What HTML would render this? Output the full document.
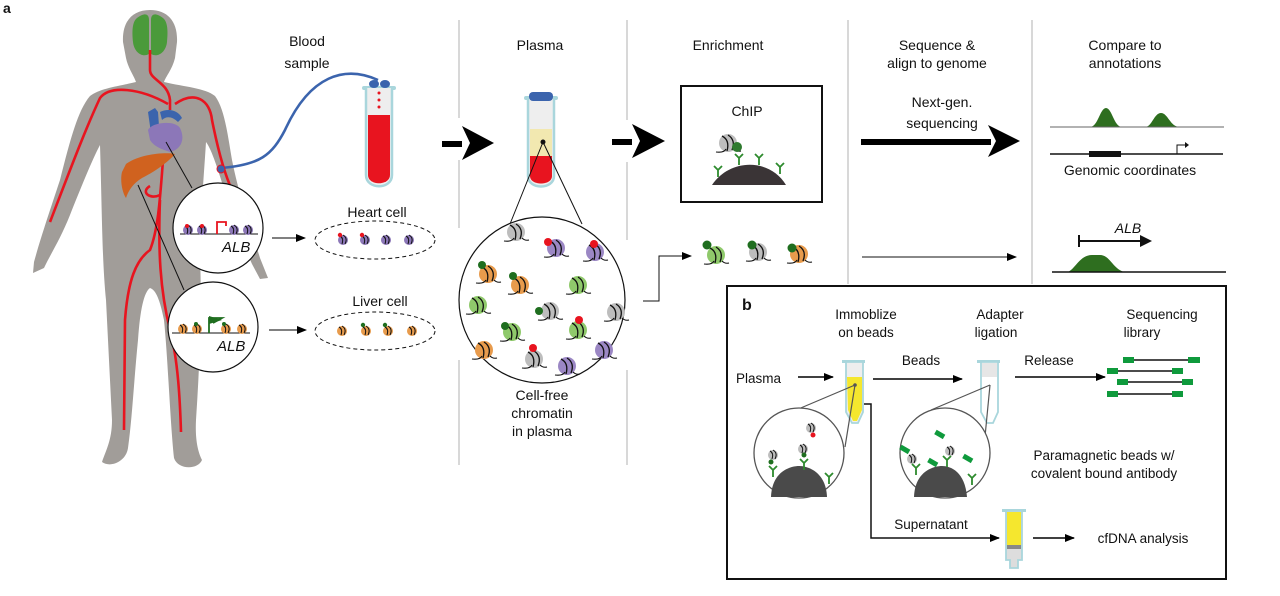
<!DOCTYPE html>
<html><head><meta charset="utf-8"><style>
html,body{margin:0;padding:0;background:#fff}
svg{display:block}
text{font-family:"Liberation Sans",sans-serif;fill:#111}
</style></head><body>
<svg width="1280" height="596" viewBox="0 0 1280 596" xmlns="http://www.w3.org/2000/svg">
<defs>
<marker id="ah" markerWidth="10" markerHeight="8" refX="9" refY="4" orient="auto" markerUnits="userSpaceOnUse"><path d="M0,0 L10,4 L0,8 Z" fill="#000"/></marker>
<g id="nuc">
 <circle cx="0" cy="0" r="9"/>
 <path d="M-6,-7 Q2,-3 -1,8 M0,-8 Q8,-3 4,7" fill="none" stroke="#111" stroke-width="1.3"/>
 <path d="M-12,9 Q-4,10 -2,6 M6,6 Q9,9 13,8" fill="none" stroke="#111" stroke-width="1.1"/>
</g>
<g id="sn">
 <circle cx="0" cy="0" r="5"/>
 <path d="M-3,-4 Q1,-2 -1,4 M0,-5 Q5,-2 2,4" fill="none" stroke="#111" stroke-width="1"/>
</g>
<g id="ab"><path d="M0,0 L0,-7 M0,-7 L-4,-11 M0,-7 L4,-11" stroke="#2e8b2e" stroke-width="1.8" fill="none"/></g>
</defs>

<text x="3" y="13" font-size="14" font-weight="bold">a</text>

<!-- body -->
<path fill="#a19d99" d="M150,10 C168,10 178,22 177,42 L175,58 C172,70 166,76 164,82 C185,87 205,88 215,96 C224,108 227,130 232,160 C240,200 252,232 260,258 L268,278 L260,279 L252,264 C244,246 234,222 226,195 C218,170 212,150 206,142 C204,175 200,220 200,260 C202,300 200,360 196,420 C195,440 198,452 202,460 C198,470 178,470 174,458 C170,420 168,360 164,320 C160,300 156,290 150,288 C144,292 140,310 138,340 C134,380 132,420 128,448 C126,462 110,468 102,462 C106,450 112,440 112,420 C110,380 108,340 106,300 C102,260 102,210 100,145 C92,160 80,190 70,215 C60,240 50,255 44,268 L33,273 L34,262 C40,240 50,210 60,180 C70,140 78,110 90,96 C100,88 120,86 136,82 C134,76 128,68 126,58 L123,42 C122,22 132,10 150,10 Z"/>
<!-- brain -->
<path fill="#4a9a3a" d="M137,18 C145,12 149,14 149,20 L149,54 C142,58 134,52 133,42 C132,32 132,22 137,18 Z M163,18 C155,12 151,14 151,20 L151,54 C158,58 166,52 167,42 C168,32 168,22 163,18 Z"/>
<!-- vessels -->
<g fill="none" stroke="#e8141f" stroke-width="2.6">
<path d="M150,50 L150,70 C150,80 168,82 170,100 L170,110"/>
<path d="M168,104 C140,88 110,85 100,98 C85,130 70,170 50,222"/>
<path d="M175,104 C195,90 210,100 212,120 C218,150 225,175 232,190"/>
<path d="M163,160 C160,200 158,230 150,250 C136,260 128,280 125,320 L124,430"/>
<path d="M160,200 C158,250 160,290 170,330 C178,360 180,400 181,432"/>
<path d="M150,186 C140,192 150,200 160,195"/>
</g>
<!-- heart -->
<path fill="#3b64ad" d="M148,112 L155,108 L158,112 L160,140 L152,140 Z"/>
<path fill="#3b64ad" d="M160,112 C168,108 178,110 182,118 L178,122 C172,116 166,116 162,120 Z"/>
<path fill="#8c77b8" d="M148,130 C152,122 175,120 180,128 C186,140 180,150 170,152 C165,150 155,148 150,140 Z"/>
<!-- liver -->
<path fill="#d0621f" d="M126,164 C140,154 165,152 175,154 C170,160 158,170 142,178 C132,184 128,192 126,198 C122,192 120,180 122,172 Z"/>
<!-- zoom lines -->
<g stroke="#111" stroke-width="1"><line x1="166" y1="142" x2="192" y2="188"/><line x1="138" y1="185" x2="184" y2="290"/></g>
<!-- heart circle -->
<circle cx="218" cy="228" r="45" fill="#fff" stroke="#111" stroke-width="1.2"/>
<line x1="180" y1="234" x2="258" y2="234" stroke="#111"/>
<g fill="#8c77b8"><use href="#sn" x="188" y="230"/><use href="#sn" x="202" y="230"/><use href="#sn" x="234" y="230"/><use href="#sn" x="248" y="230"/></g>
<circle cx="187" cy="226" r="2" fill="#e8141f"/><circle cx="202" cy="226" r="2" fill="#e8141f"/>
<path d="M217,234 L217,222 L226,222 L226,226" fill="none" stroke="#e8141f" stroke-width="1.8"/>
<text x="222" y="252" font-size="15" font-style="italic">ALB</text>
<!-- liver circle -->
<circle cx="213" cy="327" r="45" fill="#fff" stroke="#111" stroke-width="1.2"/>
<line x1="172" y1="333" x2="250" y2="333" stroke="#111"/>
<g fill="#e89b4c"><use href="#sn" x="183" y="329"/><use href="#sn" x="197" y="329"/><use href="#sn" x="226" y="329"/><use href="#sn" x="242" y="329"/></g>
<circle cx="196" cy="324" r="2" fill="#1f6e1f"/><circle cx="224" cy="324" r="2" fill="#1f6e1f"/>
<path d="M209,333 L209,318 L222,318 L213,323" fill="none" stroke="#1f6e1f" stroke-width="1.8"/>
<path d="M209,316 L222,320 L209,324 Z" fill="#1f6e1f"/>
<text x="217" y="351" font-size="15" font-style="italic">ALB</text>
<!-- arrows to cells -->
<line x1="272" y1="238" x2="305" y2="238" stroke="#000" marker-end="url(#ah)"/>
<line x1="269" y1="330" x2="306" y2="330" stroke="#000" marker-end="url(#ah)"/>
<text x="377" y="217" font-size="14" text-anchor="middle">Heart cell</text>
<ellipse cx="375" cy="240" rx="60" ry="19" fill="none" stroke="#111" stroke-dasharray="4,3"/>
<g fill="#8c77b8"><use href="#sn" x="343" y="240"/><use href="#sn" x="365" y="240"/><use href="#sn" x="386" y="240"/><use href="#sn" x="409" y="240"/></g>
<circle cx="340" cy="235" r="2.2" fill="#e8141f"/><circle cx="362" cy="235" r="2.2" fill="#e8141f"/>
<text x="380" y="306" font-size="14" text-anchor="middle">Liver cell</text>
<ellipse cx="375" cy="331" rx="60" ry="19" fill="none" stroke="#111" stroke-dasharray="4,3"/>
<g fill="#e89b4c"><use href="#sn" x="342" y="331"/><use href="#sn" x="366" y="331"/><use href="#sn" x="388" y="331"/><use href="#sn" x="412" y="331"/></g>
<circle cx="363" cy="325" r="2.2" fill="#1f6e1f"/><circle cx="385" cy="325" r="2.2" fill="#1f6e1f"/>

<!-- blood sample -->
<text x="307" y="46" font-size="14" text-anchor="middle">Blood</text>
<text x="307" y="68" font-size="14" text-anchor="middle">sample</text>
<path d="M221,168 C260,165 272,155 285,130 C310,75 345,65 378,80" fill="none" stroke="#3b64ad" stroke-width="2.6"/>
<circle cx="221" cy="169" r="4" fill="#3b64ad" stroke="#e8141f"/>
<rect x="362" y="86" width="34" height="4" rx="2" fill="#a9d6dc"/>
<path d="M366,88 L366,175 C366,190 392,190 392,175 L392,88" fill="#eee" stroke="#a9d6dc" stroke-width="2.5"/>
<path d="M368,115 L390,115 L390,175 C390,186 368,186 368,175 Z" fill="#e8141f"/>
<ellipse cx="374" cy="84" rx="5" ry="4" fill="#3b64ad"/><ellipse cx="385" cy="84" rx="5" ry="4" fill="#3b64ad"/>
<g fill="#e8141f"><circle cx="379" cy="93" r="1.5"/><circle cx="379" cy="100" r="1.5"/><circle cx="379" cy="107" r="1.5"/></g>

<!-- separators -->
<g stroke="#c4c4c4" stroke-width="1.3">
<line x1="459" y1="20" x2="459" y2="118"/><line x1="459" y1="160" x2="459" y2="228"/><line x1="459" y1="360" x2="459" y2="465"/>
<line x1="627" y1="20" x2="627" y2="120"/><line x1="627" y1="162" x2="627" y2="240"/><line x1="627" y1="370" x2="627" y2="465"/>
<line x1="848" y1="20" x2="848" y2="284"/>
<line x1="1032" y1="20" x2="1032" y2="284"/>
</g>
<!-- big arrows -->
<g fill="#000">
<rect x="442" y="141" width="20" height="6"/><path d="M462,126 L494,143 L462,160 L470,143 Z"/>
<rect x="612" y="139" width="20" height="6"/><path d="M632,124 L665,141 L632,158 L640,141 Z"/>
<rect x="861" y="139" width="130" height="6"/><path d="M988,125 L1020,141 L988,157 L996,141 Z"/>
</g>

<!-- plasma -->
<text x="540" y="50" font-size="14" text-anchor="middle">Plasma</text>
<rect x="524" y="96" width="34" height="4" rx="2" fill="#a9d6dc"/>
<path d="M528,98 L528,176 C528,190 554,190 554,176 L554,98" fill="#eee" stroke="#a9d6dc" stroke-width="2.5"/>
<rect x="530" y="129" width="22" height="27" fill="#f2e8b0"/>
<path d="M530,156 L552,156 L552,176 C552,186 530,186 530,176 Z" fill="#e8141f"/>
<rect x="529" y="92" width="24" height="9" rx="4" fill="#3b64ad"/>
<circle cx="543" cy="142" r="2.5" fill="#111"/>
<line x1="543" y1="142" x2="510" y2="224" stroke="#111"/><line x1="543" y1="142" x2="582" y2="224" stroke="#111"/>
<circle cx="542" cy="300" r="83" fill="#fff" stroke="#111" stroke-width="1.2"/>
<g fill="#bdbdbd"><use href="#nuc" x="516" y="232"/><use href="#nuc" x="550" y="311"/><use href="#nuc" x="616" y="312"/><use href="#nuc" x="534" y="359"/></g>
<g fill="#9b87c4"><use href="#nuc" x="556" y="248"/><use href="#nuc" x="595" y="252"/><use href="#nuc" x="604" y="350"/><use href="#nuc" x="567" y="366"/></g>
<g fill="#e89b4c"><use href="#nuc" x="488" y="274"/><use href="#nuc" x="520" y="285"/><use href="#nuc" x="484" y="350"/></g>
<g fill="#8fc96b"><use href="#nuc" x="578" y="285"/><use href="#nuc" x="478" y="305"/><use href="#nuc" x="512" y="332"/><use href="#nuc" x="578" y="330"/></g>
<g fill="#e8141f"><circle cx="548" cy="242" r="4"/><circle cx="594" cy="244" r="4"/><circle cx="579" cy="320" r="4"/><circle cx="533" cy="348" r="4"/></g>
<g fill="#1f6e1f"><circle cx="482" cy="265" r="4"/><circle cx="513" cy="276" r="4"/><circle cx="539" cy="311" r="4"/><circle cx="505" cy="326" r="4"/></g>
<text x="542" y="400" font-size="14" text-anchor="middle">Cell-free</text>
<text x="542" y="418" font-size="14" text-anchor="middle">chromatin</text>
<text x="542" y="436" font-size="14" text-anchor="middle">in plasma</text>
<path d="M643,301 L659,301 L659,256 L691,256" fill="none" stroke="#111" marker-end="url(#ah)"/>
<g fill="#8fc96b"><use href="#nuc" x="716" y="255"/></g>
<g fill="#bdbdbd"><use href="#nuc" x="758" y="252"/></g>
<g fill="#e89b4c"><use href="#nuc" x="799" y="254"/></g>
<g fill="#1f6e1f"><circle cx="707" cy="245" r="4.5"/><circle cx="752" cy="245" r="4.5"/><circle cx="792" cy="248" r="4.5"/></g>

<!-- enrichment -->
<text x="728" y="50" font-size="14" text-anchor="middle">Enrichment</text>
<rect x="681" y="86" width="141" height="116" fill="none" stroke="#111" stroke-width="2"/>
<text x="747" y="116" font-size="14" text-anchor="middle">ChIP</text>
<path d="M712,185 C730,158 770,158 786,185 Z" fill="#3a3436"/>
<g fill="#bdbdbd"><use href="#nuc" x="728" y="143"/></g>
<circle cx="737" cy="147" r="5" fill="#2e7a2e"/>
<use href="#ab" x="718" y="177"/><use href="#ab" x="739" y="165"/><use href="#ab" x="759" y="165"/><use href="#ab" x="780" y="174"/>

<!-- sequence -->
<text x="937" y="50" font-size="14" text-anchor="middle">Sequence &amp;</text>
<text x="937" y="68" font-size="14" text-anchor="middle">align to genome</text>
<text x="942" y="107" font-size="14" text-anchor="middle">Next-gen.</text>
<text x="942" y="128" font-size="14" text-anchor="middle">sequencing</text>
<line x1="862" y1="257" x2="1016" y2="257" stroke="#111" marker-end="url(#ah)"/>

<!-- compare -->
<text x="1125" y="50" font-size="14" text-anchor="middle">Compare to</text>
<text x="1125" y="68" font-size="14" text-anchor="middle">annotations</text>
<path d="M1050,127 L1090,127 C1098,127 1100,108 1106,108 C1112,108 1114,127 1122,127 L1145,127 C1152,127 1154,113 1161,113 C1168,113 1170,127 1180,127 Z" fill="#2e6e1f"/>
<line x1="1050" y1="127" x2="1224" y2="127" stroke="#666"/>
<line x1="1050" y1="154" x2="1223" y2="154" stroke="#111" stroke-width="1.5"/>
<rect x="1089" y="151" width="32" height="6" fill="#111"/>
<path d="M1177,154 L1177,145 L1186,145" fill="none" stroke="#111"/><path d="M1185,142 L1189,145 L1185,148 Z" fill="#111"/>
<text x="1130" y="175" font-size="14" text-anchor="middle">Genomic coordinates</text>
<text x="1128" y="233" font-size="14" font-style="italic" text-anchor="middle">ALB</text>
<line x1="1079" y1="235" x2="1079" y2="247" stroke="#111" stroke-width="2"/>
<line x1="1079" y1="241" x2="1144" y2="241" stroke="#111" stroke-width="2"/><path d="M1140,235 L1152,241 L1140,247 Z" fill="#111"/>
<path d="M1068,272 C1076,268 1080,255 1092,255 L1100,255 C1110,255 1112,268 1124,272 Z" fill="#2e6e1f"/>
<line x1="1052" y1="272" x2="1226" y2="272" stroke="#111" stroke-width="1.5"/>

<!-- panel b -->
<rect x="727" y="286" width="499" height="293" fill="#fff" stroke="#111" stroke-width="2"/>
<text x="742" y="310" font-size="16" font-weight="bold">b</text>
<text x="866" y="319" font-size="13.5" text-anchor="middle">Immoblize</text>
<text x="866" y="337" font-size="13.5" text-anchor="middle">on beads</text>
<text x="1000" y="319" font-size="13.5" text-anchor="middle">Adapter</text>
<text x="996" y="337" font-size="13.5" text-anchor="middle">ligation</text>
<text x="1162" y="319" font-size="13.5" text-anchor="middle">Sequencing</text>
<text x="1142" y="337" font-size="13.5" text-anchor="middle">library</text>
<text x="736" y="383" font-size="13.5">Plasma</text>
<line x1="798" y1="377" x2="833" y2="377" stroke="#000" stroke-width="1.5" marker-end="url(#ah)"/>
<text x="921" y="365" font-size="13.5" text-anchor="middle">Beads</text>
<line x1="873" y1="379" x2="962" y2="379" stroke="#000" stroke-width="1.5" marker-end="url(#ah)"/>
<text x="1049" y="365" font-size="13.5" text-anchor="middle">Release</text>
<line x1="1015" y1="377" x2="1105" y2="377" stroke="#000" stroke-width="1.5" marker-end="url(#ah)"/>
<!-- library -->
<g stroke="#111" stroke-width="1.5"><line x1="1130" y1="360" x2="1195" y2="360"/><line x1="1113" y1="371" x2="1178" y2="371"/><line x1="1123" y1="382" x2="1188" y2="382"/><line x1="1113" y1="394" x2="1178" y2="394"/></g>
<g fill="#0f9a3c"><rect x="1123" y="357" width="11" height="6"/><rect x="1188" y="357" width="12" height="6"/><rect x="1107" y="368" width="11" height="6"/><rect x="1172" y="368" width="11" height="6"/><rect x="1117" y="379" width="11" height="6"/><rect x="1182" y="379" width="11" height="6"/><rect x="1107" y="391" width="11" height="6"/><rect x="1172" y="391" width="11" height="6"/></g>
<!-- tube 1 -->
<rect x="842" y="360" width="23" height="3" fill="#a9d6dc"/>
<path d="M846,362 L846,412 L852,423 L858,423 L863,412 L863,362 Z" fill="#eee" stroke="#a9d6dc" stroke-width="1.8"/>
<path d="M847,377 L862,377 L862,410 L857,421 L853,421 L848,410 Z" fill="#f5e72e"/>
<circle cx="855" cy="385" r="1.8" fill="#555"/>
<line x1="855" y1="385" x2="796" y2="410" stroke="#555" stroke-width="1.2"/><line x1="855" y1="385" x2="845" y2="447" stroke="#555" stroke-width="1.2"/>
<path d="M864,404 L871,404 L871,538 L999,538" fill="none" stroke="#111" stroke-width="1.5" marker-end="url(#ah)"/>
<!-- circle 1 -->
<circle cx="799" cy="453" r="45" fill="#fff" stroke="#555" stroke-width="1.3"/>
<path d="M771,497 C772,470 792,466 799,466 C808,466 826,472 827,497 Z" fill="#4a4a4a"/>
<g fill="#bdbdbd"><use href="#sn" x="811" y="428"/><use href="#sn" x="803" y="449"/><use href="#sn" x="773" y="455"/></g>
<circle cx="813" cy="435" r="2.5" fill="#e8141f"/><circle cx="804" cy="455" r="2.5" fill="#1f6e1f"/><circle cx="771" cy="462" r="2.5" fill="#1f6e1f"/>
<use href="#ab" x="804" y="470"/><use href="#ab" x="773" y="477"/><use href="#ab" x="829" y="484"/>
<!-- tube 2 -->
<rect x="977" y="360" width="23" height="3" fill="#a9d6dc"/>
<path d="M981,362 L981,412 L987,423 L993,423 L998,412 L998,362 Z" fill="#fff" stroke="#a9d6dc" stroke-width="1.8"/>
<rect x="982" y="363" width="15" height="14" fill="#e6e6e6"/>
<line x1="990" y1="385" x2="931" y2="410" stroke="#555" stroke-width="1.2"/><line x1="990" y1="385" x2="984" y2="447" stroke="#555" stroke-width="1.2"/>
<circle cx="945" cy="453" r="45" fill="#fff" stroke="#555" stroke-width="1.3"/>
<path d="M914,497 C915,470 935,466 942,466 C951,466 965,472 967,497 Z" fill="#4a4a4a"/>
<g fill="#bdbdbd"><use href="#sn" x="912" y="459"/><use href="#sn" x="950" y="451"/></g>
<g fill="#0f9a3c"><rect x="900" y="447" width="10" height="5" transform="rotate(30 905 449)"/><rect x="928" y="460" width="10" height="5" transform="rotate(30 933 462)"/><rect x="935" y="432" width="10" height="5" transform="rotate(30 940 434)"/><rect x="963" y="456" width="10" height="5" transform="rotate(30 968 458)"/></g>
<use href="#ab" x="916" y="475"/><use href="#ab" x="947" y="467"/><use href="#ab" x="972" y="485"/>
<text x="1104" y="460" font-size="13.5" text-anchor="middle">Paramagnetic beads w/</text>
<text x="1104" y="478" font-size="13.5" text-anchor="middle">covalent bound antibody</text>
<text x="931" y="529" font-size="13.5" text-anchor="middle">Supernatant</text>
<!-- tube 3 -->
<rect x="1002" y="509" width="24" height="3" fill="#a9d6dc"/>
<path d="M1006,511 L1006,560 L1010,560 L1010,568 L1018,568 L1018,560 L1022,560 L1022,511 Z" fill="#ddd" stroke="#a9d6dc" stroke-width="1.8"/>
<rect x="1007" y="512" width="14" height="33" fill="#f5e72e"/>
<rect x="1007" y="545" width="14" height="4" fill="#888"/>
<line x1="1033" y1="538" x2="1074" y2="538" stroke="#000" stroke-width="1.5" marker-end="url(#ah)"/>
<text x="1143" y="543" font-size="13.5" text-anchor="middle">cfDNA analysis</text>
</svg>
</body></html>
